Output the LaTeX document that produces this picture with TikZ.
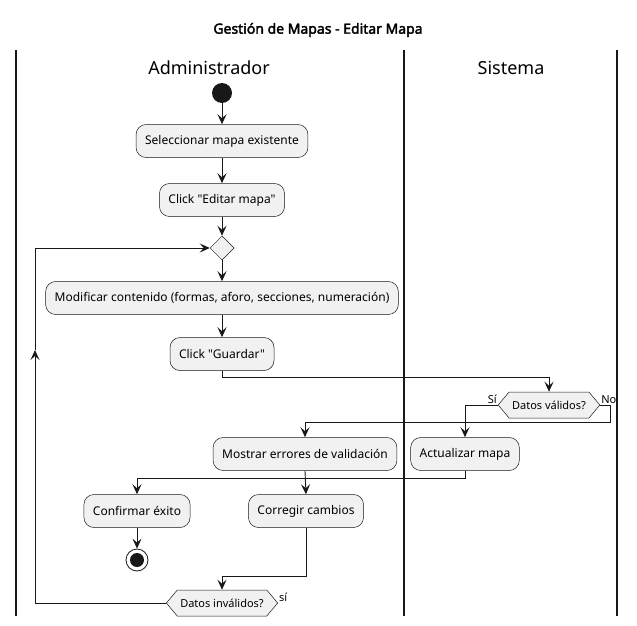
\documentclass[tikz,border=0pt]{standalone}
\usepackage{fontspec}
\setmainfont{Noto Sans}[Ligatures=TeXOff,BoldFont={Noto Sans},BoldFeatures={FakeBold=2.5}]
\usetikzlibrary{shapes.geometric,shapes.symbols,arrows.meta}
\definecolor{bx}{HTML}{F1F1F1}
\definecolor{lc}{HTML}{181818}
\begin{document}
\begin{tikzpicture}[x=1pt,y=-1pt,
  act/.style={draw=lc,fill=bx,rounded corners=10pt,minimum height=33pt,inner xsep=9pt,font=\fontsize{12}{14}\selectfont,line width=0.5pt},
  hexa/.style={signal,signal to=west and east,signal pointer angle=100,draw=lc,fill=bx,minimum height=26pt,inner xsep=3pt,font=\fontsize{11}{13}\selectfont,line width=0.5pt},
  flow/.style={line width=0.9pt,draw=lc},
  arr/.style={flow,-{Stealth[length=10pt,width=9pt,inset=4pt]}},
  lane/.style={line width=1.2pt,draw=lc},
  lbl/.style={font=\fontsize{11}{13}\selectfont,inner sep=1pt}]
\useasboundingbox (0,0) rectangle (637,626);
\node[font=\bfseries\fontsize{14}{16}\selectfont] (title) at (318,30) {Gestión de Mapas - Editar Mapa};
\draw[lane] (16,50) -- (16,616);
\draw[lane] (404,50) -- (404,616);
\draw[lane] (617,50) -- (617,616);
\node[font=\fontsize{18}{20}\selectfont] (h1) at (209,68) {Administrador};
\node[font=\fontsize{18}{20}\selectfont] (h2) at (511,68) {Sistema};

\node[circle,fill=lc,minimum size=20pt,inner sep=0] (start) at (222,93) {};
\node[act] (sel) at (222,141) {Seleccionar mapa existente};
\node[act] (edit) at (222,200) {Click "Editar mapa"};
\node[diamond,draw=lc,fill=bx,minimum width=24pt,minimum height=24pt,inner sep=0,line width=0.5pt] (merge) at (222,248) {};
\node[act] (mod) at (222,298) {Modificar contenido (formas, aforo, secciones, numeración)};
\node[act] (guar) at (222,354) {Click "Guardar"};
\node[hexa] (dv) at (549,405) {Datos válidos?};
\node[act] (err) at (305,454) {Mostrar errores de validación};
\node[act] (upd) at (465,454) {Actualizar mapa};
\node[act] (conf) at (137,511) {Confirmar éxito};
\node[act] (corr) at (306,511) {Corregir cambios};
\node[circle,draw=lc,line width=0.8pt,minimum size=22pt,inner sep=0] (end) at (137,560) {};
\node[circle,fill=lc,minimum size=14pt,inner sep=0] (endin) at (137,560) {};
\node[hexa] (dinv) at (222,603) {Datos inválidos?};

\node[lbl,anchor=south east] (si1) at (dv.west) {Sí};
\node[lbl,anchor=south west] (no1) at (dv.east) {No};
\node[lbl,anchor=south west] (si2) at (dinv.east) {sí};

\draw[arr] (start) -- (sel);
\draw[arr] (sel) -- (edit);
\draw[arr] (edit) -- (merge);
\draw[arr] (merge) -- (mod);
\draw[arr] (mod) -- (guar);
\coordinate (g1) at (222,377);
\draw[arr] (guar.south) -- (g1) -| (dv.north);
\coordinate (s1) at (465,405);
\draw[arr] (dv.west) -- (s1) -- (upd.north);
\coordinate (n1) at (610,405);
\coordinate (n2) at (610,422);
\coordinate (n3) at (305,422);
\draw[arr] (dv.east) -- (n1) -- (n2) -- (n3) -- (err.north);
\coordinate (u1) at (465,478);
\coordinate (u2) at (137,478);
\draw[arr] (upd.south) -- (u1) -- (u2) -- (conf.north);
\draw[arr] (err.south) -- (corr.north);
\draw[arr] (conf) -- (end);
\coordinate (c1) at (306,576);
\coordinate (c2) at (222,576);
\draw[arr] (corr.south) -- (c1) -- (c2) -- (dinv.north);
\coordinate (lb) at (35,603);
\coordinate (lm) at (35,350);
\coordinate (lt) at (35,248);
\draw[arr] (dinv.west) -- (lb) -- (lm);
\draw[arr] (lm) -- (lt) -- (merge.west);
\end{tikzpicture}
\end{document}
